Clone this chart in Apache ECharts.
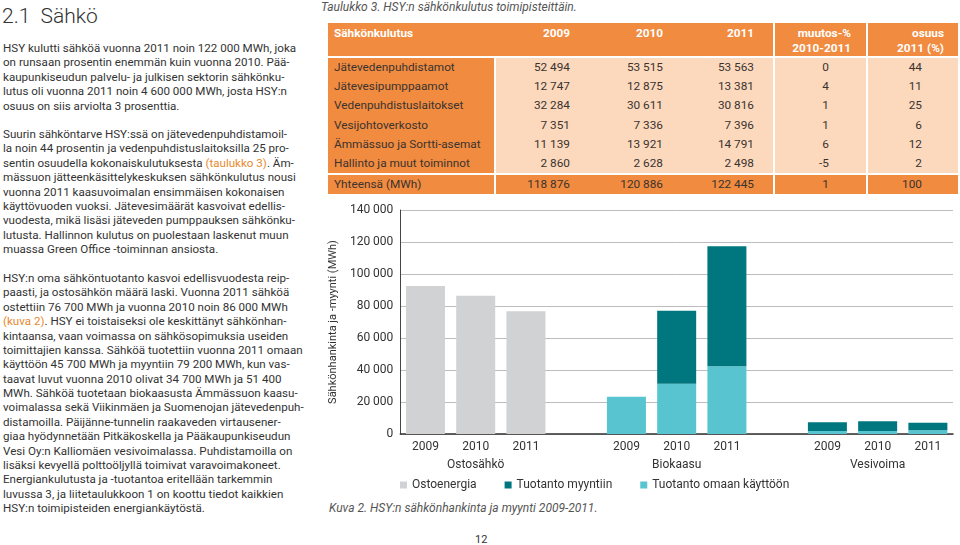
<!DOCTYPE html>
<html><head><meta charset="utf-8">
<script src="https://cdn.jsdelivr.net/npm/echarts@6/dist/echarts.min.js"></script>
<style>
html,body{margin:0;padding:0;background:#fff;}
body{width:960px;height:545px;position:relative;overflow:hidden;font-family:Roboto,"Liberation Sans",sans-serif;color:#333;}
.h{position:absolute;left:2px;top:4px;font-size:21px;font-weight:300;color:#333;white-space:pre;}
.p{position:absolute;left:3px;font-size:11.6px;line-height:14.375px;white-space:nowrap;color:#333;}
.o{color:#e8892f;}
.cap{position:absolute;font-style:italic;font-size:12px;color:#555;white-space:nowrap;}
table{position:absolute;left:328px;top:23px;border-collapse:collapse;font-size:11.8px;table-layout:fixed;}
td{padding:0;height:19.2px;line-height:19.2px;white-space:nowrap;color:#3a3330;}
td.l{background:#f18b3f;padding-left:6px;width:160px;}
td.d{background:#fcd9bd;text-align:right;}
tr.hd td{background:#f18b3f;color:#fff;font-weight:bold;height:33px;line-height:15px;vertical-align:top;padding-top:3px;box-sizing:border-box;}
tr.tot td{background:#f18b3f;border-top:2px solid #fff;height:19px;}
.sepL{border-left:2px solid #fff;}
tr.first td{border-top:2px solid #fff;}
#chart{position:absolute;left:320px;top:195px;width:640px;height:305px;}
</style></head><body>
<div class="h">2.1  Sähkö</div>
<div class="p" style="top:41px">HSY kulutti sähköä vuonna 2011 noin 122 000 MWh, joka<br>on runsaan prosentin enemmän kuin vuonna 2010. Pää-<br>kaupunkiseudun palvelu- ja julkisen sektorin sähkönku-<br>lutus oli vuonna 2011 noin 4 600 000 MWh, josta HSY:n<br>osuus on siis arviolta 3 prosenttia.</div>
<div class="p" style="top:127px">Suurin sähköntarve HSY:ssä on jätevedenpuhdistamoil-<br>la noin 44 prosentin ja vedenpuhdistuslaitoksilla 25 pro-<br>sentin osuudella kokonaiskulutuksesta <span class="o">(taulukko 3)</span>. Äm-<br>mässuon jätteenkäsittelykeskuksen sähkönkulutus nousi<br>vuonna 2011 kaasuvoimalan ensimmäisen kokonaisen<br>käyttövuoden vuoksi. Jätevesimäärät kasvoivat edellis-<br>vuodesta, mikä lisäsi jäteveden pumppauksen sähkönku-<br>lutusta. Hallinnon kulutus on puolestaan laskenut muun<br>muassa Green Office -toiminnan ansiosta.</div>
<div class="p" style="top:271px">HSY:n oma sähköntuotanto kasvoi edellisvuodesta reip-<br>paasti, ja ostosähkön määrä laski. Vuonna 2011 sähköä<br>ostettiin 76 700 MWh ja vuonna 2010 noin 86 000 MWh<br><span class="o">(kuva 2)</span>. HSY ei toistaiseksi ole keskittänyt sähkönhan-<br>kintaansa, vaan voimassa on sähkösopimuksia useiden<br>toimittajien kanssa. Sähköä tuotettiin vuonna 2011 omaan<br>käyttöön 45 700 MWh ja myyntiin 79 200 MWh, kun vas-<br>taavat luvut vuonna 2010 olivat 34 700 MWh ja 51 400<br>MWh. Sähköä tuotetaan biokaasusta Ämmässuon kaasu-<br>voimalassa sekä Viikinmäen ja Suomenojan jätevedenpuh-<br>distamoilla. Päijänne-tunnelin raakaveden virtausener-<br>giaa hyödynnetään Pitkäkoskella ja Pääkaupunkiseudun<br>Vesi Oy:n Kalliomäen vesivoimalassa. Puhdistamoilla on<br>lisäksi kevyellä polttoöljyllä toimivat varavoimakoneet.<br>Energiankulutusta ja -tuotantoa eritellään tarkemmin<br>luvussa 3, ja liitetaulukkoon 1 on koottu tiedot kaikkien<br>HSY:n toimipisteiden energiankäytöstä.</div>

<div class="cap" style="left:321px;top:0px;">Taulukko 3. HSY:n sähkönkulutus toimipisteittäin.</div>
<table id="tbl"></table>
<div id="chart"></div>
<div class="cap" style="left:329px;top:501px;">Kuva 2. HSY:n sähkönhankinta ja myynti 2009-2011.</div>
<div style="position:absolute;left:475px;top:533px;font-size:11px;color:#333;">12</div>

<script>
// ---- Table data ----
const tableHeaders = ['Sähkönkulutus', '2009', '2010', '2011', 'muutos-%<br>2010-2011', 'osuus<br>2011 (%)'];
const tableRows = ['Jätevedenpuhdistamot', 'Jätevesipumppaamot', 'Vedenpuhdistuslaitokset', 'Vesijohtoverkosto', 'Ämmässuo ja Sortti-asemat', 'Hallinto ja muut toiminnot'];
const cons2009 = ['52 494', '12 747', '32 284', '7 351', '11 139', '2 860'];
const cons2010 = ['53 515', '12 875', '30 611', '7 336', '13 921', '2 628'];
const cons2011 = ['53 563', '13 381', '30 816', '7 396', '14 791', '2 498'];
const changePct = ['0', '4', '1', '1', '6', '-5'];
const share2011 = ['44', '11', '25', '6', '12', '2'];
const totalRow = ['Yhteensä (MWh)', '118 876', '120 886', '122 445', '1', '100'];

// ---- Chart data ----
const groups = ['Ostosähkö', 'Biokaasu', 'Vesivoima'];
const years = ['2009', '2010', '2011'];
const ostoenergia = [92500, 86400, 76700];           // Ostosähkö
const bioOmaan = [23300, 31400, 42300];              // Biokaasu, own use
const bioMyynti = [null, 45600, 75000];              // Biokaasu, sold
const vesiOmaan = [1900, 1900, 2300];                // Vesivoima, own use
const vesiMyynti = [5400, 6000, 4800];               // Vesivoima, sold
const yTicks = [0, 20000, 40000, 60000, 80000, 100000, 120000, 140000];

// build table
(function(){
  const t = document.getElementById('tbl');
  const widths = [166, 93, 93, 93, 93, 91];
  const padH = [0, 18, 18, 19, 15, 14];
  const padD = [0, 18, 18, 19, 37, 36];
  let html = '<colgroup>' + widths.map(w => '<col style="width:' + w + 'px">').join('') + '</colgroup>';
  html += '<tr class="hd">' + tableHeaders.map((h, i) => i === 0 ? '<td class="l">' + h + '</td>' :
    '<td class="d' + (i >= 4 ? ' sepL' : '') + '" style="text-align:right;padding-right:' + padH[i] + 'px">' + h + '</td>').join('') + '</tr>';
  tableRows.forEach((r, k) => {
    const vals = [cons2009[k], cons2010[k], cons2011[k], changePct[k], share2011[k]];
    html += '<tr' + (k === 0 ? ' class="first"' : '') + '><td class="l">' + r + '</td>' +
      vals.map((v, i) => '<td class="d' + (i === 0 || i >= 3 ? ' sepL' : '') + '" style="padding-right:' + padD[i + 1] + 'px">' + v + '</td>').join('') + '</tr>';
  });
  html += '<tr class="tot">' + totalRow.map((v, i) => i === 0 ? '<td class="l">' + v + '</td>' :
    '<td class="d' + (i === 1 || i >= 4 ? ' sepL' : '') + '" style="background:#f18b3f;padding-right:' + padD[i] + 'px">' + v + '</td>').join('') + '</tr>';
  t.innerHTML = html;
})();

// categories: 3 years per group, spacer between groups
const cats = [];
groups.forEach((g, gi) => {
  years.forEach(y => cats.push(g + '|' + y));
  if (gi < groups.length - 1) cats.push('gap' + gi);
});
function slot(arrByGroup) {
  const out = [];
  groups.forEach((g, gi) => {
    years.forEach((y, yi) => out.push(arrByGroup[gi] ? arrByGroup[gi][yi] : null));
    if (gi < groups.length - 1) out.push(null);
  });
  return out;
}
const fmt = v => String(v).replace(/\B(?=(\d{3})+(?!\d))/g, ' ');

const chart = echarts.init(document.getElementById('chart'), null, {renderer: 'canvas'});
chart.setOption({
  animation: false,
  textStyle: {fontFamily: 'Roboto, "Liberation Sans", sans-serif'},
  grid: {left: 79, right: 7, top: 15, bottom: 66, containLabel: false},
  legend: {
    left: 80, top: 284, padding: 0, itemGap: 28, itemWidth: 7, itemHeight: 7, icon: 'rect',
    data: ['Ostoenergia', 'Tuotanto myyntiin', 'Tuotanto omaan käyttöön'],
    textStyle: {fontSize: 12, color: '#333'}
  },
  xAxis: {
    type: 'category', data: cats,
    axisLine: {lineStyle: {color: '#333', width: 1.5}},
    axisTick: {show: false},
    axisLabel: {
      interval: 0, margin: 5, color: '#333', fontSize: 12,
      formatter: function (v) {
        if (v.indexOf('|') < 0) return '';
        const [g, y] = v.split('|');
        return y === years[1] ? '{y|' + y + '}\n{g|' + g + '}' : '{y|' + y + '}';
      },
      rich: {y: {lineHeight: 15, fontSize: 12, color: '#333'}, g: {lineHeight: 22, fontSize: 12, color: '#333'}}
    }
  },
  yAxis: {
    type: 'value', min: yTicks[0], max: yTicks[yTicks.length - 1], interval: yTicks[1] - yTicks[0],
    axisLine: {show: true, lineStyle: {color: '#444', width: 1}},
    axisTick: {show: false},
    splitLine: {lineStyle: {color: '#bdbdbd', width: 1}},
    axisLabel: {formatter: fmt, color: '#333', fontSize: 12, margin: 7},
    name: 'Sähkönhankinta ja -myynti (MWh)', nameLocation: 'middle', nameRotate: 90, nameGap: 50,
    nameTextStyle: {fontSize: 11, color: '#333'}
  },
  series: [
    {name: 'Ostoenergia', type: 'bar', stack: 's', barWidth: 39, itemStyle: {color: '#d1d2d4'}, data: slot({0: ostoenergia})},
    {name: 'Tuotanto omaan käyttöön', type: 'bar', stack: 's', barWidth: 39, itemStyle: {color: '#58c4cf'}, data: slot({1: bioOmaan, 2: vesiOmaan})},
    {name: 'Tuotanto myyntiin', type: 'bar', stack: 's', barWidth: 39, itemStyle: {color: '#00777f'}, data: slot({1: bioMyynti, 2: vesiMyynti})}
  ]
});
</script>
</body></html>
